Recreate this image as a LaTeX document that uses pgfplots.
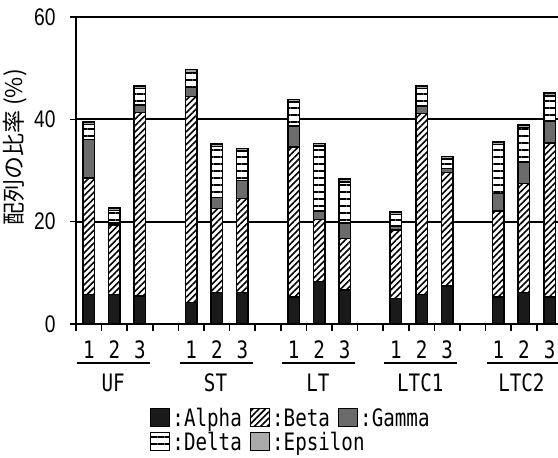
\documentclass[border=0pt]{standalone}
\usepackage{fontspec}
\setmainfont{Liberation Sans}
\newfontfamily\jp{Noto Sans CJK JP}
\newfontfamily\gm{DejaVu Sans Mono}[FakeStretch=0.8]
\newfontfamily\nr{Liberation Sans}[FakeStretch=0.8]
\usepackage{pgfplots}
\usepackage{pgfplotstable}
\pgfplotsset{compat=1.18}
\usetikzlibrary{patterns.meta}
\definecolor{cA}{HTML}{1A1A1A}
\definecolor{cC}{HTML}{6B6B6B}
\definecolor{cE}{HTML}{AAAAAA}
\pgfplotstableread{
x a b c d e
0 5.8 22.7 7.6 2.9 0.5
1 5.8 13.5 0.4 2.5 0.5
2 5.5 35.8 1.5 3.2 0.5
4 4.2 40.3 1.7 3.0 0.5
5 6.2 16.4 2.1 10.0 0.5
6 6.2 18.3 3.5 5.8 0.5
8 5.3 29.3 4.1 4.7 0.5
9 8.3 12.1 1.7 12.7 0.5
10 6.6 10.1 3.0 8.1 0.5
12 5.0 13.4 0.8 2.2 0.5
13 5.8 35.3 1.5 3.4 0.5
14 7.4 22.2 0.8 1.8 0.5
16 5.3 16.8 3.4 9.6 0.5
17 6.2 21.3 4.2 6.7 0.5
18 5.3 30.1 4.3 4.9 0.5
}\data
\begin{document}
\begin{tikzpicture}
\useasboundingbox (-76pt,-134pt) rectangle (482pt,324pt);
\begin{axis}[
  at={(0,0)}, anchor=south west,
  scale only axis, width=482pt, height=307pt,
  xmin=-0.5, xmax=18.33, ymin=0, ymax=60,
  ybar stacked, bar width=11.5pt,
  axis x line=bottom, axis y line=left,
  axis line style={-, line width=2pt, black},
  ytick={0,20,40,60},
  ymajorgrids, grid style={black, line width=1.9pt},
  tick align=outside,
  major tick length=6pt, minor tick length=7pt,
  tick style={black, line width=1.6pt},
  xtick={0,1,2,4,5,6,8,9,10,12,13,14,16,17,18},
  xticklabels={1,2,3,1,2,3,1,2,3,1,2,3,1,2,3},
  major x tick style={draw=none},
  minor xtick={-0.5,0.5,...,17.5},
  x tick label style={font=\gm\fontsize{24}{24}\selectfont, yshift=-7pt},
  y tick label style={font=\nr\fontsize{24}{24}\selectfont, xshift=-11pt},
  /pgf/number format/assume math mode=true,
  ylabel={\jp 配列の比率 (\%)},
  ylabel style={font=\fontsize{23}{23}\selectfont, at={(axis description cs:-0.1266,0.575)}, anchor=center},
  clip=false,
  legend columns=3,
  legend cell align=left,
  legend style={at={(0.1535,-0.268)}, anchor=north west, draw=none, fill=none,
    font=\gm\fontsize{24}{24}\selectfont, inner sep=0pt, row sep=0pt,
    /tikz/every even column/.append style={column sep=6pt}},
  legend image code/.code={\draw[#1, line width=1.3pt] (0pt,-8pt) rectangle (19pt,10pt);},
  every axis plot/.append style={draw=black, line width=1.5pt},
]
\addplot[fill=cA] table[x=x,y=a]{\data};
\addplot[fill=white, postaction={pattern={Lines[angle=45,distance=4.5pt,line width=1.6pt]}, pattern color=black}] table[x=x,y=b]{\data};
\addplot[fill=cC] table[x=x,y=c]{\data};
\addplot[fill=white, postaction={pattern={Lines[angle=0,distance=7pt,line width=1.6pt]}, pattern color=black}] table[x=x,y=d]{\data};
\addplot[fill=cE] table[x=x,y=e]{\data};
\legend{:Alpha,:Beta,:Gamma,:Delta,\rlap{:Epsilon}}
\draw[line width=2pt] ([yshift=-39pt]axis cs:-0.45,0) -- ([yshift=-39pt]axis cs:2.4,0);
\draw[line width=2pt] ([yshift=-39pt]axis cs:3.55,0) -- ([yshift=-39pt]axis cs:6.4,0);
\draw[line width=2pt] ([yshift=-39pt]axis cs:7.55,0) -- ([yshift=-39pt]axis cs:10.4,0);
\draw[line width=2pt] ([yshift=-39pt]axis cs:11.55,0) -- ([yshift=-39pt]axis cs:14.4,0);
\draw[line width=2pt] ([yshift=-39pt]axis cs:15.55,0) -- ([yshift=-39pt]axis cs:18.4,0);
\node[font=\gm\fontsize{24}{24}\selectfont] at ([yshift=-59pt]axis cs:0.95,0) {UF};
\node[font=\gm\fontsize{24}{24}\selectfont] at ([yshift=-59pt]axis cs:4.95,0) {ST};
\node[font=\gm\fontsize{24}{24}\selectfont] at ([yshift=-59pt]axis cs:8.95,0) {LT};
\node[font=\gm\fontsize{24}{24}\selectfont] at ([yshift=-59pt]axis cs:12.95,0) {LTC1};
\node[font=\gm\fontsize{24}{24}\selectfont] at ([yshift=-59pt]axis cs:16.9,0) {LTC2};
\end{axis}
\end{tikzpicture}
\end{document}
